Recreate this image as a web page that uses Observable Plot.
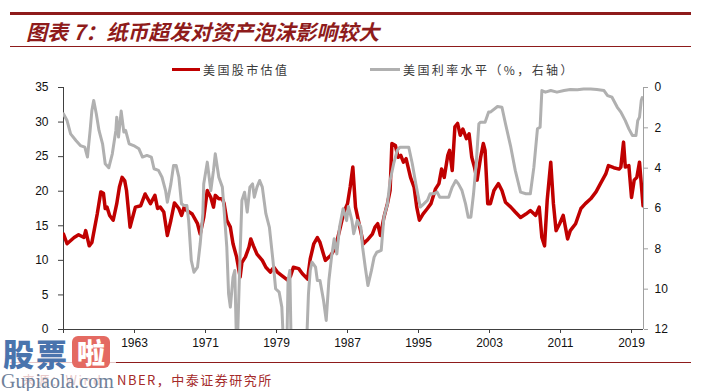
<!DOCTYPE html>
<html>
<head>
<meta charset="utf-8">
<script src="https://cdn.jsdelivr.net/npm/d3@7"></script>
<script src="https://cdn.jsdelivr.net/npm/@observablehq/plot@0.6"></script>
<style>
  html, body { margin: 0; padding: 0; background: #fff; }
  #wrap { position: relative; width: 702px; height: 391px; overflow: hidden; background: #fff;
          font-family: "Noto Sans CJK SC", "Liberation Sans", sans-serif; }
  .abs { position: absolute; }
  #topline { left: 10px; top: 12px; width: 681px; height: 3px; background: #8e1b1b; }
  #subline { left: 10px; top: 46px; width: 681px; height: 1px; background: #8e1b1b; }
  #title { left: 26px; top: 17px; font-size: 21px; font-weight: 700; font-style: italic; color: #8e1b1b;
           white-space: nowrap; line-height: 28px; }
  .legtxt { font-size: 12px; letter-spacing: 2.4px; color: #3a3a3a; white-space: nowrap; line-height: 16px; top: 62px; }
  .sw { height: 3px; top: 68px; }
  #chart { left: 0; top: 60px; }
  #botline { left: 10px; top: 362px; width: 681px; height: 1px; background: #8e1b1b; }
  #source { left: 22px; top: 371px; font-size: 13px; letter-spacing: 1.5px; color: #a52a2a; white-space: nowrap; line-height: 18px; }
  #wm { left: 0; top: 337px; width: 116px; height: 54px; background: rgba(255,255,255,0.75); }
  #wm1 { left: 3px; top: 337px; font-size: 31px; font-weight: 900; color: #4a74ad; letter-spacing: 2px; line-height: 31px; white-space: nowrap; }
  #wm2 { left: 72px; top: 336px; width: 38px; height: 32px; background: #e46a62; border-radius: 6px; color: #fff;
         font-size: 28px; font-weight: 900; line-height: 32px; text-align: center; }
  #wm3 { left: 1px; top: 371px; font-family: "Liberation Serif", "DejaVu Serif", serif; font-size: 20px; color: #6f819a;
         line-height: 20px; white-space: nowrap; }
</style>
</head>
<body>
<div id="wrap">
  <div id="topline" class="abs"></div>
  <div id="title" class="abs">图表 7：纸币超发对资产泡沫影响较大</div>
  <div id="subline" class="abs"></div>
  <div class="abs sw" style="left:172px;width:28px;background:#c00000"></div>
  <div class="abs legtxt" id="leg1" style="left:203px"></div>
  <div class="abs sw" style="left:370px;width:30px;background:#b0b0b0"></div>
  <div class="abs legtxt" id="leg2" style="left:403px"></div>
  <div id="chart" class="abs"></div>
  <div id="botline" class="abs"></div>
  <div id="source" class="abs"></div>
  <div id="wm" class="abs"></div>
  <div id="wm1" class="abs">股票</div>
  <div id="wm2" class="abs">啦</div>
  <div id="wm3" class="abs">Gupiaola.com</div>
</div>
<script>
// ---- data ----
const seriesNames = ["美国股市估值", "美国利率水平（%，右轴）"];
const sourceText = "来源：Wind，NBER，中泰证券研究所";

// 美国股市估值 : [year, value] (left axis)
const stockValuation = [
  [1955.0,13.8],[1955.4,12.4],[1956.2,13.3],[1956.7,13.7],[1957.3,13.3],[1957.5,14.3],[1957.9,12.1],[1958.2,12.6],
  [1958.8,16.7],[1959.2,19.9],[1959.5,19.7],[1959.7,17.5],[1959.9,17.7],[1960.2,16.5],[1960.6,15.8],[1961.0,18.2],
  [1961.3,20.6],[1961.6,22.0],[1961.9,21.5],[1962.1,20.1],[1962.5,14.8],[1962.7,15.8],[1963.1,17.7],[1963.7,17.9],
  [1964.2,19.6],[1964.5,18.9],[1964.8,18.2],[1965.3,19.4],[1965.6,17.5],[1965.9,17.7],[1966.3,17.0],[1966.7,13.6],
  [1967.1,15.8],[1967.5,18.3],[1968.0,17.5],[1968.3,16.5],[1968.6,17.7],[1968.9,17.2],[1969.5,16.7],[1970.1,15.3],
  [1970.4,13.8],[1970.8,16.2],[1971.2,20.1],[1971.6,19.1],[1971.9,17.7],[1972.1,19.4],[1972.5,18.9],[1972.9,18.9],
  [1973.1,18.2],[1973.4,15.8],[1973.8,14.8],[1974.1,12.4],[1974.5,10.5],[1974.9,7.6],[1975.1,9.7],[1975.5,10.5],
  [1975.9,11.9],[1976.1,13.1],[1976.4,12.1],[1976.8,10.9],[1977.4,10.0],[1977.8,9.0],[1978.3,8.3],[1978.7,9.0],
  [1979.1,8.3],[1979.6,7.8],[1980.3,7.1],[1980.6,7.8],[1980.9,9.0],[1981.5,8.8],[1981.9,8.1],[1982.5,7.3],
  [1982.8,10.2],[1983.2,12.4],[1983.6,13.3],[1983.9,12.6],[1984.5,10.0],[1985.1,10.7],[1985.6,11.7],[1986.1,14.3],
  [1986.6,17.0],[1987.0,18.2],[1987.3,20.6],[1987.6,23.5],[1987.9,17.7],[1988.3,15.3],[1988.8,12.4],[1989.2,12.9],
  [1989.8,13.8],[1990.1,14.8],[1990.4,15.3],[1990.7,13.6],[1991.1,16.2],[1991.5,18.2],[1991.8,20.1],[1992.0,26.9],
  [1992.4,26.6],[1992.7,24.9],[1993.0,25.2],[1993.3,24.2],[1993.6,24.7],[1994.1,22.0],[1994.5,20.6],[1994.8,17.7],
  [1995.1,15.8],[1995.5,16.7],[1996.0,17.5],[1996.4,18.2],[1996.9,20.3],[1997.3,21.1],[1997.6,23.2],[1997.9,22.0],
  [1998.3,25.2],[1998.5,25.9],[1998.8,23.0],[1999.1,29.3],[1999.4,29.8],[1999.7,28.1],[2000.0,29.0],[2000.4,27.6],
  [2000.7,28.3],[2001.0,24.9],[2001.3,23.5],[2001.6,21.6],[2002.0,24.9],[2002.3,26.9],[2002.5,25.9],[2002.8,18.2],
  [2003.1,18.2],[2003.5,20.1],[2004.0,21.1],[2004.4,20.1],[2004.8,18.4],[2005.4,17.7],[2005.9,17.0],[2006.5,16.2],
  [2007.1,16.7],[2007.6,17.2],[2008.2,16.5],[2008.6,17.7],[2008.9,13.3],[2009.2,12.1],[2009.5,18.7],[2009.9,24.2],
  [2010.2,18.2],[2010.5,14.3],[2010.9,15.3],[2011.3,16.5],[2011.8,13.1],[2012.1,14.3],[2012.7,15.3],[2013.3,17.5],
  [2013.8,18.2],[2014.4,18.9],[2015.0,19.9],[2015.5,21.1],[2016.1,22.5],[2016.4,23.7],[2017.0,23.4],[2017.6,23.2],
  [2017.8,23.5],[2018.1,27.1],[2018.3,23.5],[2018.7,23.7],[2019.0,19.1],[2019.3,21.6],[2019.6,22.0],[2019.9,24.2],
  [2020.3,17.9]
];

// 美国利率水平（%） : [year, rate] (right axis, reversed, values above 12 are clipped)
const usRate = [
  [1955.0,1.31],[1955.4,1.64],[1955.8,2.30],[1956.4,2.63],[1956.9,2.88],[1957.4,2.96],[1957.7,3.45],[1958.0,2.13],
  [1958.2,1.14],[1958.4,0.64],[1958.7,1.31],[1959.0,2.13],[1959.4,2.79],[1959.7,3.78],[1960.1,3.98],[1960.5,3.29],
  [1960.9,2.13],[1961.0,1.47],[1961.2,2.46],[1961.5,1.17],[1961.8,2.21],[1962.0,2.13],[1962.4,2.79],[1962.9,2.88],
  [1963.5,3.04],[1963.9,3.45],[1964.4,3.37],[1964.9,3.45],[1965.2,4.03],[1965.7,4.11],[1966.1,4.45],[1966.5,5.11],
  [1966.7,5.69],[1967.1,4.78],[1967.4,3.87],[1967.7,3.87],[1968.0,4.45],[1968.3,5.77],[1968.6,5.85],[1968.9,5.85],
  [1969.1,6.59],[1969.4,8.58],[1969.7,9.16],[1970.1,8.91],[1970.4,7.75],[1970.7,6.26],[1970.8,4.78],[1971.2,3.70],
  [1971.6,5.11],[1971.9,4.11],[1972.1,3.29],[1972.5,4.45],[1972.9,4.94],[1973.1,6.10],[1973.4,7.92],[1973.6,10.23],
  [1973.8,10.89],[1974.1,9.40],[1974.3,9.07],[1974.5,12.9],[1974.6,12.6],[1974.9,8.25],[1975.1,5.60],[1975.4,5.19],
  [1975.7,6.18],[1976.0,4.94],[1976.3,4.78],[1976.5,5.44],[1976.8,4.94],[1977.1,4.61],[1977.4,4.94],[1977.8,6.26],
  [1978.2,6.94],[1978.6,8.58],[1978.9,9.98],[1979.3,10.15],[1979.6,10.89],[1979.9,13.8],[1980.1,14.5],[1980.3,9.57],
  [1980.5,9.07],[1980.7,14.0],[1981.0,17.0],[1981.5,16.0],[1982.0,14.0],[1982.4,12.6],[1982.6,10.23],[1982.8,9.07],
  [1983.0,8.66],[1983.4,8.91],[1983.6,9.57],[1983.9,9.57],[1984.3,10.56],[1984.6,11.55],[1984.9,9.57],[1985.2,8.41],
  [1985.5,7.50],[1985.8,8.25],[1986.1,6.93],[1986.5,6.01],[1986.9,6.6],[1987.1,5.9],[1987.5,6.6],[1987.7,7.25],
  [1988.1,6.59],[1988.5,6.93],[1988.7,7.92],[1989.0,8.91],[1989.3,9.82],[1989.7,9.07],[1990.0,8.41],[1990.3,8.17],
  [1990.8,8.08],[1991.1,6.43],[1991.5,5.77],[1991.8,4.61],[1992.2,3.78],[1992.6,3.12],[1992.9,2.96],[1993.3,2.96],
  [1993.9,2.96],[1994.3,3.78],[1994.7,4.78],[1995.2,5.93],[1995.6,5.77],[1996.0,5.60],[1996.3,5.27],[1996.7,5.27],
  [1997.1,5.19],[1997.4,5.44],[1997.9,5.44],[1998.4,5.44],[1998.8,4.94],[1999.2,4.61],[1999.5,4.78],[1999.9,5.11],
  [2000.3,5.77],[2000.6,6.43],[2000.9,6.43],[2001.2,5.27],[2001.5,3.78],[2001.8,1.80],[2002.0,1.72],[2002.5,1.72],
  [2002.9,1.22],[2003.1,1.22],[2003.9,0.94],[2004.4,0.98],[2004.8,1.80],[2005.4,2.96],[2005.9,4.11],[2006.5,5.19],
  [2007.1,5.27],[2007.6,5.27],[2008.0,3.95],[2008.4,2.05],[2008.7,1.97],[2008.9,0.15],[2009.3,0.23],[2009.9,0.15],
  [2010.6,0.23],[2011.4,0.15],[2012.1,0.10],[2012.9,0.11],[2013.6,0.07],[2014.4,0.07],[2015.1,0.10],[2015.9,0.15],
  [2016.3,0.40],[2016.8,0.48],[2017.4,0.98],[2017.8,1.22],[2018.3,1.64],[2018.7,2.05],[2019.1,2.38],[2019.5,2.38],
  [2019.7,1.64],[2019.9,1.47],[2020.1,0.64],[2020.2,0.50]
];

const xTickYears = [1955, 1963, 1971, 1979, 1987, 1995, 2003, 2011, 2019];
const xLabelYears = [1963, 1971, 1979, 1987, 1995, 2003, 2011, 2019];
const leftTicks = [0, 5, 10, 15, 20, 25, 30, 35];
const rightTicks = [0, 2, 4, 6, 8, 10, 12];
const xDomain = [1955, 2020.35];
const leftMax = 35, rightMax = 12;

// map right-axis (reversed 0..12) onto the left scale 0..35
const toLeft = r => leftMax - r * leftMax / rightMax;
const fromLeft = v => Math.round((leftMax - v) * rightMax / leftMax);

document.getElementById("leg1").textContent = seriesNames[0];
document.getElementById("leg2").textContent = seriesNames[1];
document.getElementById("source").textContent = sourceText;

const chart = Plot.plot({
  width: 702,
  height: 300,
  marginLeft: 63,
  marginRight: 59,
  marginTop: 27,
  marginBottom: 31,
  style: { fontFamily: "'Liberation Sans', Arial, sans-serif", fontSize: "12px", color: "#111", background: "transparent", overflow: "visible" },
  x: { domain: xDomain },
  y: { domain: [0, leftMax] },
  marks: [
    Plot.axisX({ ticks: xTickYears, tickSize: 4, text: null, stroke: "#404040", label: null }),
    Plot.axisX({ ticks: xLabelYears, tickFormat: d => String(d), tickSize: 0, tickPadding: 9, fill: "#111", label: null }),
    Plot.axisY({ anchor: "left", ticks: leftTicks, tickFormat: d => String(d), tickSize: 5, tickPadding: 10, stroke: "#404040", fill: "#111", label: null }),
    Plot.axisY({ anchor: "right", ticks: rightTicks.map(toLeft), tickFormat: d => String(fromLeft(d)), tickSize: 4, tickPadding: 7, stroke: "#a0a0a0", fill: "#111", label: null }),
    Plot.ruleX([xDomain[0]], { stroke: "#404040", strokeWidth: 1 }),
    Plot.ruleX([xDomain[1]], { stroke: "#a0a0a0", strokeWidth: 1 }),
    Plot.ruleY([0], { stroke: "#404040", strokeWidth: 1 }),
    Plot.line(stockValuation, { x: d => d[0], y: d => d[1], stroke: "#c00000", strokeWidth: 3.5, strokeLinejoin: "round", clip: true }),
    Plot.line(usRate, { x: d => d[0], y: d => toLeft(d[1]), stroke: "#b0b0b0", strokeWidth: 3, strokeLinejoin: "round", clip: true })
  ]
});
document.getElementById("chart").appendChild(chart);
</script>
</body>
</html>
